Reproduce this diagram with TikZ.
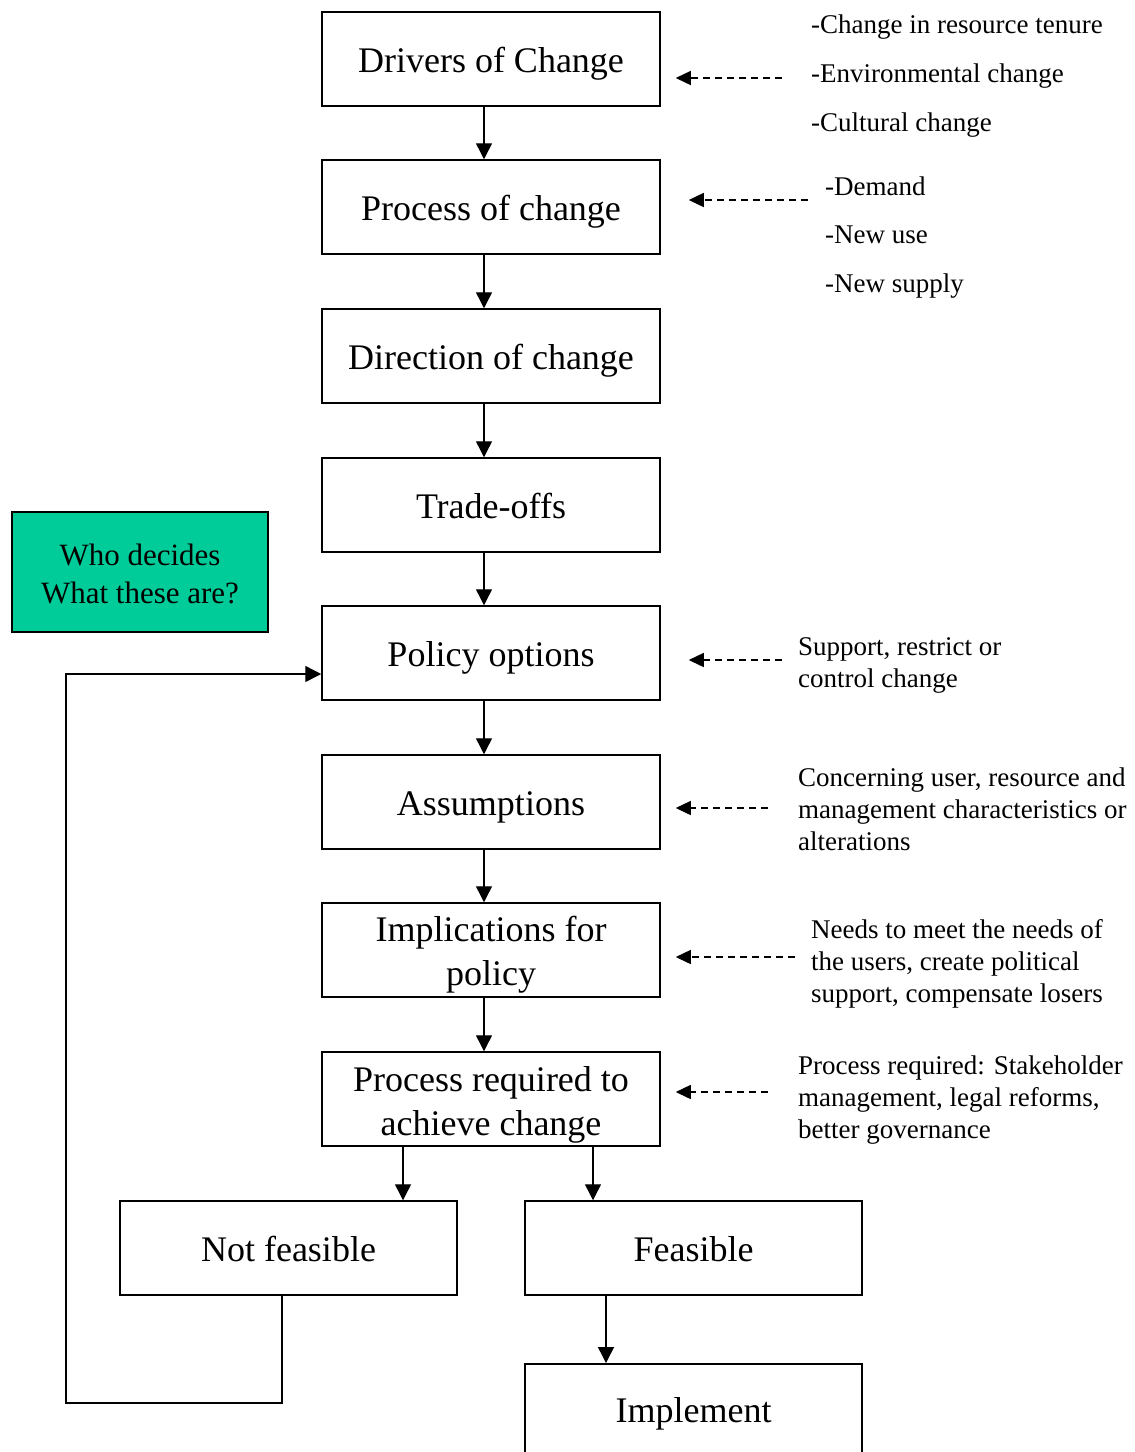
\documentclass[tikz,border=0pt]{standalone}
\usepackage{fontspec}
\setmainfont{Liberation Serif}
\usetikzlibrary{arrows.meta}
\definecolor{whogreen}{RGB}{0,204,153}
\begin{document}
\begin{tikzpicture}[x=1pt,y=-1pt,
  box/.style={draw, line width=1.5pt, minimum width=338pt, minimum height=94pt, inner sep=0pt},
  boxtext/.style={anchor=base, inner sep=0pt, font=\fontsize{36}{44}\selectfont},
  arr/.style={line width=1.4pt, -{Triangle[length=16pt,width=16pt]}},
  darr/.style={line width=1.4pt, dash pattern=on 7pt off 5pt, -{Triangle[length=15pt,width=14pt]}},
  side/.style={anchor=west, inner sep=0pt, align=left, font=\fontsize{27}{32}\selectfont}]
\useasboundingbox (0,0) rectangle (1135,1452);
\clip (0,0) rectangle (1135,1452);
% main chain boxes
\node[box] (d1) at (491,59) {};
\node[box] (d2) at (491,207) {};
\node[box] (d3) at (491,356) {};
\node[box] (d4) at (491,505) {};
\node[box] (d5) at (491,653) {};
\node[box] (d6) at (491,802) {};
\node[box] (d7) at (491,950) {};
\node[box] (d8) at (491,1099) {};
\node[box, minimum width=337pt] (nf) at (288.5,1248) {};
\node[box, minimum width=337pt] (fe) at (693.5,1248) {};
\node[box, minimum width=337pt, minimum height=96pt, anchor=north] (im) at (693.5,1363) {};
% box texts
\node[boxtext] (d1t) at (491,72.5) {Drivers of Change};
\node[boxtext] (d2t) at (491,220.5) {Process of change};
\node[boxtext] (d3t) at (491,369.5) {Direction of change};
\node[boxtext] (d4t) at (491,518.5) {Trade-offs};
\node[boxtext] (d5t) at (491,666.5) {Policy options};
\node[boxtext] (d6t) at (491,815.5) {Assumptions};
\node[boxtext] (d7t1) at (491,941) {Implications for};
\node[boxtext] (d7t2) at (491,985) {policy};
\node[boxtext] (d8t1) at (491,1091) {Process required to};
\node[boxtext] (d8t2) at (491,1135) {achieve change};
\node[boxtext] (nft) at (288.5,1261.5) {Not feasible};
\node[boxtext] (fet) at (693.5,1261.5) {Feasible};
\node[boxtext] (imt) at (693.5,1422.5) {Implement};
% green box
\node[draw, fill=whogreen, line width=1.5pt, minimum width=256pt, minimum height=120pt, inner sep=0pt] (who) at (140,572) {};
\node[inner sep=0pt, align=center, font=\fontsize{31}{38}\selectfont] (whot) at (140,574) {Who decides\\What these are?};
% chain arrows
\foreach \a/\b in {d1/d2,d2/d3,d3/d4,d4/d5,d5/d6,d6/d7,d7/d8}
  \draw[arr] ([xshift=-7pt]\a.south) -- ([xshift=-7pt]\b.north);
\draw[arr] ([xshift=-88pt]d8.south) -- ([xshift=-88pt]d8.south |- nf.north);
\draw[arr] ([xshift=102pt]d8.south) -- ([xshift=102pt]d8.south |- fe.north);
\draw[arr] ([xshift=-87.5pt]fe.south) -- ([xshift=-87.5pt]fe.south |- im.north);
% feedback loop
\coordinate (lp) at (66,1403);
\draw[arr] ([xshift=-6.5pt]nf.south) |- (lp) |- ([yshift=-21pt]d5.west);
% side notes
\node[side] (t1a) at (811,27) {-Change in resource tenure};
\node[side] (t1b) at (811,76) {-Environmental change};
\node[side] (t1c) at (811,125) {-Cultural change};
\node[side] (t2a) at (825,186) {-Demand};
\node[side] (t2b) at (825,235) {-New use};
\node[side] (t2c) at (825,286) {-New supply};
\node[side] (t5) at (798,665) {Support, restrict or\\control change};
\node[side] (t6) at (798,809) {Concerning user, resource and\\management characteristics or\\alterations};
\node[side] (t7) at (811,964) {Needs to meet the needs of\\the users, create political\\support, compensate losers};
\node[side] (t8) at (798,1100) {Process required: Stakeholder\\management, legal reforms,\\better governance};
% dashed arrows
\coordinate (s1) at (782,78);
\coordinate (s2) at (808,200);
\coordinate (s5) at (782,660);
\coordinate (s6) at (768,808);
\coordinate (s7) at (795,957);
\coordinate (s8) at (768,1092);
\draw[darr] (s1) -- ([xshift=15pt]d1.east |- s1);
\draw[darr] (s2) -- ([xshift=28pt]d2.east |- s2);
\draw[darr] (s5) -- ([xshift=28pt]d5.east |- s5);
\draw[darr] (s6) -- ([xshift=15pt]d6.east |- s6);
\draw[darr] (s7) -- ([xshift=15pt]d7.east |- s7);
\draw[darr] (s8) -- ([xshift=15pt]d8.east |- s8);
\end{tikzpicture}
\end{document}
